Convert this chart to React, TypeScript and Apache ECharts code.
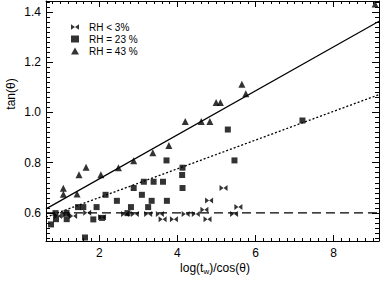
import React, { useEffect, useRef } from "react";
import * as echarts from "echarts";

// ---- axis ranges & ticks ----
const X_MIN = 0.635;
const X_MAX = 9.16;
const Y_MIN = 0.488;
const Y_MAX = 1.444;
const X_MAJOR = [2, 4, 6, 8];
const Y_MAJOR = [0.6, 0.8, 1.0, 1.2, 1.4];
const X_MINOR: number[] = [];
for (let i = 4; i <= 45; i++) {
  const v = Math.round(i * 0.2 * 100) / 100;
  if (!X_MAJOR.includes(v)) X_MINOR.push(v);
}
const Y_MINOR: number[] = [];
for (let i = 25; i <= 72; i++) {
  const v = Math.round(i * 0.02 * 1000) / 1000;
  if (!Y_MAJOR.some((m) => Math.abs(m - v) < 1e-6)) Y_MINOR.push(v);
}

// ---- data ----
const SERIES_NAMES = ["RH < 3%", "RH = 23 %", "RH = 43 %"];

const RH3: [number, number][] = [
  [0.94, 0.588], [1.15, 0.592], [1.33, 0.588], [1.69, 0.601], [2.07, 0.583],
  [2.66, 0.596], [2.91, 0.596], [3.25, 0.596], [3.55, 0.596], [3.62, 0.575],
  [3.91, 0.575], [4.21, 0.596], [4.47, 0.596], [4.69, 0.612], [4.77, 0.575],
  [4.81, 0.649], [5.18, 0.699], [5.45, 0.596], [5.56, 0.623],
];

const RH23: [number, number][] = [
  [0.763, 0.554], [0.878, 0.599], [0.891, 0.575], [1.16, 0.6], [1.165, 0.575],
  [1.455, 0.623], [1.59, 0.623], [1.634, 0.502], [1.846, 0.574], [1.93, 0.623],
  [2.07, 0.58], [2.16, 0.672], [2.45, 0.648], [2.72, 0.599], [2.81, 0.623],
  [2.88, 0.699], [3.09, 0.672], [3.14, 0.724], [3.25, 0.623], [3.34, 0.648],
  [3.39, 0.724], [3.63, 0.724], [3.73, 0.648], [3.72, 0.809], [4.13, 0.78],
  [4.12, 0.751], [4.13, 0.699], [5.29, 0.932], [5.46, 0.809], [7.2, 0.968],
];

const RH43: [number, number][] = [
  [1.078, 0.698], [1.08, 0.674], [1.43, 0.675], [1.48, 0.752], [1.66, 0.782],
  [2.04, 0.752], [2.49, 0.78], [2.88, 0.808], [3.37, 0.84], [3.78, 0.868],
  [4.2, 0.964], [4.61, 0.964], [4.83, 0.964], [4.99, 1.04], [5.1, 1.04],
  [5.65, 1.112], [5.75, 1.075], [9.06, 1.432],
];

// fit lines (end points)
const FIT_RH3: [number, number][] = [[X_MIN, 0.6], [X_MAX, 0.6]];
const FIT_RH23: [number, number][] = [[X_MIN, 0.583], [X_MAX, 1.071]];
const FIT_RH43: [number, number][] = [[X_MIN, 0.616], [X_MAX, 1.363]];

const FONT = "'Liberation Sans', Arial, Helvetica, sans-serif";
const BOWTIE = "path://M0,0L5,3.5L0,7ZM10,0L5,3.5L10,7Z";

export default function App() {
  const ref = useRef<HTMLDivElement>(null);
  useEffect(() => {
    if (!ref.current) return;
    const chart = echarts.init(ref.current, null, { renderer: "svg" });
    const line = { color: "#000", width: 1 };
    const mkX = (pos: string, ticks: number[], len: number, labels: boolean, showLine: boolean) => ({
      type: "value",
      position: pos,
      min: X_MIN,
      max: X_MAX,
      axisLine: { show: showLine, onZero: false, lineStyle: line },
      axisTick: { show: true, inside: true, length: len, customValues: ticks, lineStyle: line },
      axisLabel: labels
        ? { show: true, customValues: ticks, margin: 6, fontSize: 12, color: "#000", fontFamily: FONT, formatter: (v: number) => String(v) }
        : { show: false },
      splitLine: { show: false },
    });
    const mkY = (pos: string, ticks: number[], len: number, labels: boolean, showLine: boolean) => ({
      type: "value",
      position: pos,
      min: Y_MIN,
      max: Y_MAX,
      axisLine: { show: showLine, onZero: false, lineStyle: line },
      axisTick: { show: true, inside: true, length: len, customValues: ticks, lineStyle: line },
      axisLabel: labels
        ? { show: true, customValues: ticks, margin: 5, fontSize: 12, color: "#000", fontFamily: FONT, formatter: (v: number) => v.toFixed(1) }
        : { show: false },
      splitLine: { show: false },
    });
    chart.setOption({
      animation: false,
      backgroundColor: "#fff",
      grid: { left: 46, right: 2, top: 1, bottom: 40, containLabel: false, outerBoundsMode: "none" },
      xAxis: [
        mkX("bottom", X_MAJOR, 6, true, true),
        mkX("bottom", X_MINOR, 3, false, false),
        mkX("top", X_MAJOR, 6, false, true),
        mkX("top", X_MINOR, 3, false, false),
      ],
      yAxis: [
        mkY("left", Y_MAJOR, 7, true, true),
        mkY("left", Y_MINOR, 4, false, false),
        mkY("right", Y_MAJOR, 7, false, true),
        mkY("right", Y_MINOR, 4, false, false),
      ],
      legend: {
        orient: "vertical",
        left: 66,
        top: 17,
        itemWidth: 8,
        itemHeight: 7,
        itemGap: 2,
        selectedMode: false,
        data: SERIES_NAMES,
        textStyle: { fontSize: 10, color: "#000", fontFamily: FONT, padding: [0, 0, 0, 5] },
      },
      series: [
        {
          name: SERIES_NAMES[0], type: "scatter", data: RH3, symbol: BOWTIE, symbolSize: [8, 6],
          itemStyle: { color: "#000" }, z: 3,
        },
        {
          name: SERIES_NAMES[1], type: "scatter", data: RH23, symbol: "rect", symbolSize: 6,
          itemStyle: { color: "#000" }, z: 3,
        },
        {
          name: SERIES_NAMES[2], type: "scatter", data: RH43, symbol: "triangle", symbolSize: [7, 7],
          itemStyle: { color: "#000" }, z: 3,
        },
        {
          type: "line", data: FIT_RH3, showSymbol: false, silent: true, z: 2,
          lineStyle: { color: "#000", width: 1.1, type: [9, 5] },
        },
        {
          type: "line", data: FIT_RH23, showSymbol: false, silent: true, z: 2,
          lineStyle: { color: "#000", width: 1.3, type: [2, 2] },
        },
        {
          type: "line", data: FIT_RH43, showSymbol: false, silent: true, z: 2,
          lineStyle: { color: "#000", width: 1.2, type: "solid" },
        },
      ],
      graphic: [
        {
          type: "text",
          x: 11,
          y: 94,
          rotation: Math.PI / 2,
          style: { text: "tan(θ)", fontSize: 12, fontFamily: FONT, fill: "#000", align: "center", verticalAlign: "middle" },
        },
        {
          type: "text",
          x: 215,
          y: 268,
          style: {
            text: "{a|log(t}{s|w}{a|)/cos(θ)}",
            align: "center",
            verticalAlign: "middle",
            rich: {
              a: { fontSize: 12, fontFamily: FONT, fill: "#000", lineHeight: 14, verticalAlign: "middle" },
              s: { fontSize: 8, fontFamily: FONT, fill: "#000", lineHeight: 8, verticalAlign: "bottom" },
            },
          },
        },
      ],
    });
    return () => chart.dispose();
  }, []);
  return <div ref={ref} style={{ position: "fixed", left: 0, top: 0, width: 381, height: 281 }} />;
}
